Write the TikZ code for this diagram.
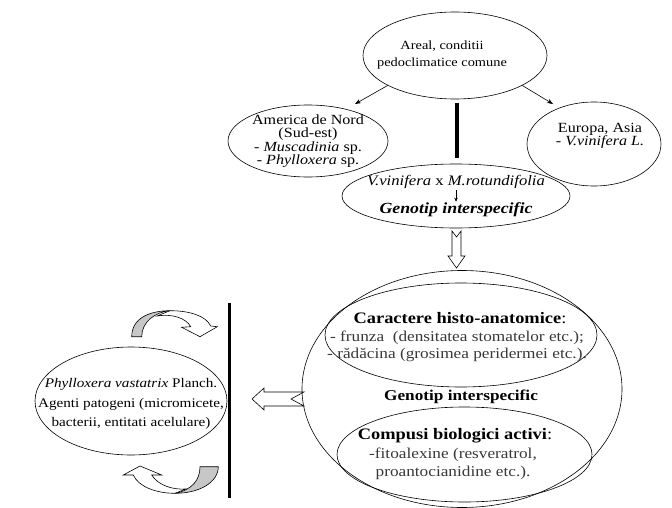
\documentclass[tikz,border=0pt]{standalone}
\usepackage{fontspec}
\setmainfont[FakeStretch=1.15]{Liberation Serif}
\usetikzlibrary{arrows.meta,shapes.geometric}
\begin{document}
\begin{tikzpicture}[x=1pt,y=-1pt,
  ell/.style={draw, ellipse, inner sep=0pt, line width=0.6pt},
  txt/.style={align=center, inner sep=0pt},
  arr/.style={-{Stealth[length=6pt,width=4.5pt]}, line width=0.6pt},
  hollow/.style={draw, fill=white, line width=0.6pt, line join=miter},
  grayband/.style={draw, fill=black!22, line width=0.6pt},
  thickbar/.style={line width=4pt},
  soft/.style={text=black!78}]
\useasboundingbox (0,0) rectangle (672,508);

% ellipses
\node[ell, minimum width=184pt, minimum height=87pt] (areal) at (455,55.5) {};
\node[ell, minimum width=160pt, minimum height=72pt] (america) at (308,141) {};
\node[ell, minimum width=134pt, minimum height=84pt] (europa) at (594,144) {};
\node[ell, minimum width=228pt, minimum height=64pt] (hybrid) at (456,196) {};
\node[ell, minimum width=320pt, minimum height=237pt] (big) at (462,389) {};
\node[ell, minimum width=272pt, minimum height=104pt] (histo) at (461,335) {};
\node[ell, minimum width=255pt, minimum height=95pt] (compusi) at (464.5,454.5) {};
\node[ell, minimum width=192pt, minimum height=108pt] (phyl) at (131,401) {};

% texts
\node[txt, font=\fontsize{12.5}{17}\selectfont] (arealT) at (442,55) {Areal, conditii\\pedoclimatice comune};
\node[txt, font=\fontsize{14}{13.5}\selectfont] (americaT) at (308,141) {America de Nord\\(Sud-est)\\- \textit{Muscadinia} sp.\\- \textit{Phylloxera} sp.};
\node[txt, font=\fontsize{14}{13}\selectfont] (europaT) at (600,136) {Europa, Asia\\- \textit{V.vinifera L.}};
\node[txt, font=\fontsize{14.5}{17}\selectfont] (hyb1) at (456,182) {\textit{V.vinifera} x \textit{M.rotundifolia}};
\node[txt, font=\fontsize{15.5}{17}\selectfont] (hyb2) at (456,210) {\textbf{\textit{Genotip interspecific}}};
\node[txt, font=\fontsize{16}{17}\selectfont] (histoH) at (460,318.5) {\textbf{Caractere histo-anatomice}:};
\node[txt, soft, font=\fontsize{15}{17}\selectfont] (histoL) at (457,346) {- frunza~ (densitatea stomatelor etc.);\\- rădăcina (grosimea peridermei etc.).};
\node[txt, font=\fontsize{15}{17}\selectfont] (bigT) at (461,396.5) {\textbf{Genotip interspecific}};
\node[txt, font=\fontsize{16}{17}\selectfont] (compH) at (455,435.5) {\textbf{Compusi biologici activi}:};
\node[txt, soft, font=\fontsize{15}{18}\selectfont] (compL) at (453,463.5) {-fitoalexine (resveratrol,\\proantocianidine etc.).};
\node[txt, font=\fontsize{13.2}{19.5}\selectfont] (phylT) at (131,404) {\textit{Phylloxera vastatrix} Planch.\\Agenti patogeni (micromicete,\\bacterii, entitati acelulare)};

% connectors
\coordinate (tipA) at (355,104);
\coordinate (tipE) at (553,104);
\draw[arr] (areal.204) -- (tipA);
\draw[arr] (areal.336) -- (tipE);
\draw[-{Stealth[length=4pt,width=3.5pt]}, line width=0.5pt] ([yshift=-1pt]hyb1.south) -- ([yshift=1pt]hyb2.north);

% thick bars
\coordinate (barT1) at (457,103);
\coordinate (barT2) at (457,158);
\draw[thickbar] (barT1) -- (barT2);
\coordinate (barL1) at (229,303);
\coordinate (barL2) at (229,498);
\draw[line width=3pt] (barL1) -- (barL2);

% hollow notched arrow down (hybrid -> big)
\draw[hollow] (452,231) -- (456.5,237) -- (461,231) -- (461,256) -- (465,256)
  -- (456.5,268) -- (448,256) -- (452,256) -- cycle;

% hollow notched arrow left (big -> phyl)
\draw[hollow] (252,399) -- (264,388) -- (264,392) -- (304,392) -- (291,399)
  -- (304,406) -- (264,406) -- (264,410) -- cycle;

% top curved arrow
\draw[hollow] (170,310.7) .. controls (190,310.7) and (206,316) .. (210.7,326)
  -- (217.3,326.7) -- (200,336.7) -- (181.7,327.3) -- (190.7,326.7)
  .. controls (186,318) and (172,313.5) .. (157,316) -- cycle;
\draw[grayband] (131.7,336.7) .. controls (131.7,318) and (150,310.7) .. (170,310.7)
  .. controls (155,312) and (141.7,322) .. (141.7,336.7) -- cycle;

% bottom curved arrow
\draw[hollow] (175,493.3) .. controls (155,493.3) and (138,486) .. (133.3,475)
  -- (123.3,475) -- (140,466) -- (161.7,475) -- (151.7,475)
  .. controls (158,485) and (172,490) .. (186,489) -- cycle;
\draw[grayband] (200,466.7) -- (218.3,466.7)
  .. controls (218.3,482) and (200,493.3) .. (175,493.3)
  .. controls (192,490) and (200,480) .. (200,466.7) -- cycle;
\end{tikzpicture}
\end{document}
